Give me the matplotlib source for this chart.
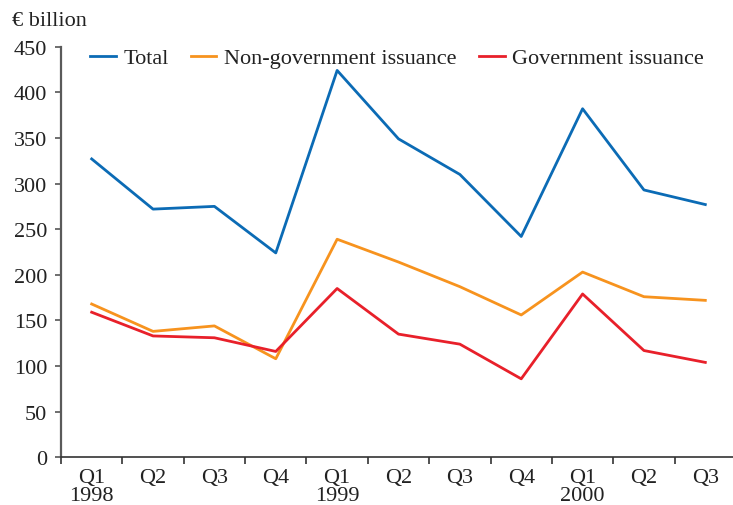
import matplotlib.pyplot as plt
from matplotlib.ticker import FixedLocator, NullFormatter

# quarterly issuance, EUR billion
quarters = ["Q1\n1998", "Q2", "Q3", "Q4", "Q1\n1999", "Q2", "Q3", "Q4",
            "Q1\n2000", "Q2", "Q3"]
total = [327, 272, 275, 224, 424, 349, 310, 242, 382, 293, 277]
non_government = [168, 138, 144, 108, 239, 214, 187, 156, 203, 176, 172]
government = [159, 133, 131, 116, 185, 135, 124, 86, 179, 117, 104]

plt.rcParams["font.family"] = ["Liberation Serif", "DejaVu Serif"]
plt.rcParams["font.size"] = 16

fig = plt.figure(figsize=(7.33, 5.06), dpi=100)
ax = fig.add_axes([61 / 733, 47.7 / 506, 675 / 733, 410.6 / 506])

x = list(range(len(quarters)))
ax.plot(x, total, color="#0b6bb5", lw=2, label="Total")
ax.plot(x, non_government, color="#f7931e", lw=2, label="Non-government issuance")
ax.plot(x, government, color="#e8202a", lw=2, label="Government issuance")

ax.set_xlim(-0.5, 10.5)
ax.set_ylim(0, 450)
ax.set_yticks(range(0, 451, 50))

# tick marks sit between quarters, labels in the middle of each quarter
ax.xaxis.set_major_locator(FixedLocator([i - 0.5 for i in x]))
ax.xaxis.set_major_formatter(NullFormatter())
ax.set_xticks(x, quarters, minor=True)
ax.tick_params(axis="x", which="major", length=5, width=1.2, color="#333333")
ax.tick_params(axis="x", which="minor", length=0, pad=7.5, colors="#222222")
ax.tick_params(axis="y", length=4, width=1.2, pad=6, color="#555555", colors="#222222")
for lbl in ax.get_xticklabels(minor=True):
    lbl.set_linespacing(0.95)

for side in ("top", "right"):
    ax.spines[side].set_visible(False)
ax.spines["left"].set_color("#5a5a5a")
ax.spines["left"].set_linewidth(1.6)
ax.spines["bottom"].set_color("#333333")
ax.spines["bottom"].set_linewidth(1.2)

fig.text(12 / 733, 1 - 21 / 506, "€ billion", va="center", ha="left", color="#222222")

ax.legend(loc="center left", bbox_to_anchor=(90 / 733, 1 - 59 / 506),
          bbox_transform=fig.transFigure, ncol=3, frameon=False,
          borderpad=0, borderaxespad=0, handlelength=1.15, handletextpad=0.35,
          columnspacing=1.0, labelcolor="#222222")

fig.savefig("out.png", dpi=100)
